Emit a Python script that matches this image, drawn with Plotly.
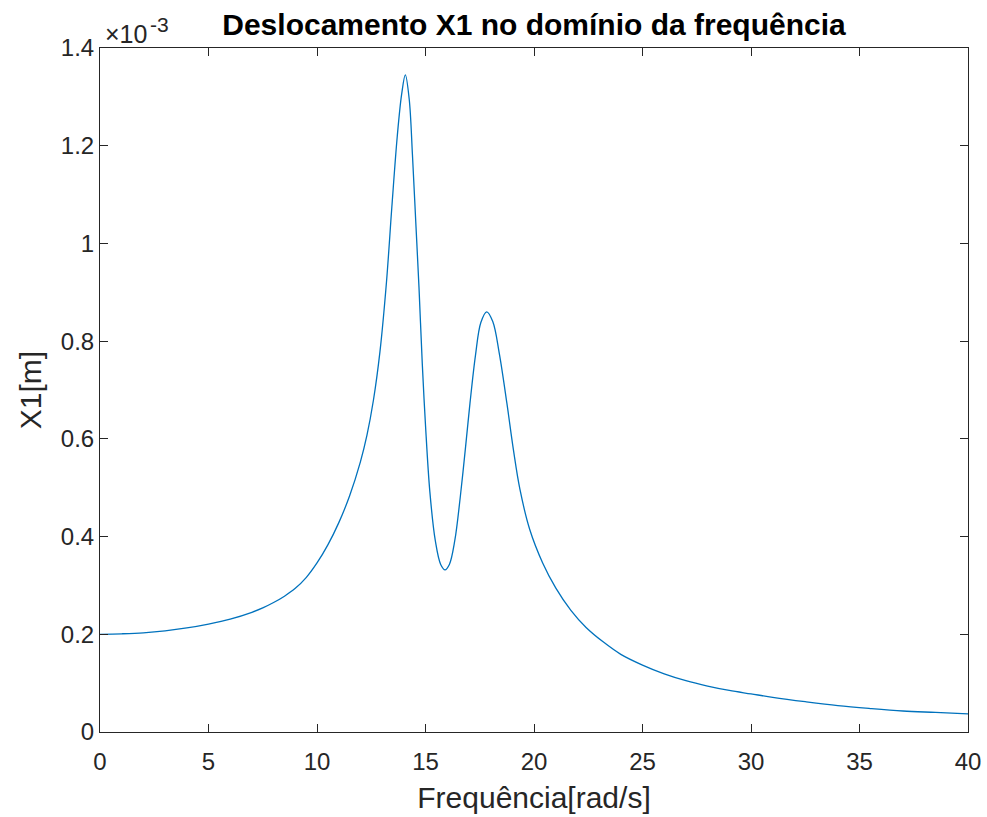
import plotly.graph_objects as go

# Frequency [rad/s]
freq = [0, 1, 2, 3, 4, 5, 6, 7, 7.5, 8, 8.5, 9, 9.5, 10, 10.5, 11, 11.5, 12, 12.3, 12.6,
        12.9, 13.2, 13.45, 13.7, 13.9, 14.07, 14.25, 14.4, 14.55, 14.7, 14.85, 15.0, 15.2,
        15.45, 15.7, 15.9, 16.1, 16.35, 16.6, 16.85, 17.05, 17.3, 17.55, 17.82, 18.1, 18.4,
        18.75, 19.05, 19.35, 19.8, 20.4, 21.0, 21.7, 22.4, 23.2, 24.0, 25.0, 26.0, 27.0,
        28.0, 29.0, 30.0, 31.0, 32.5, 34.0, 35.5, 37.0, 38.5, 40.0]
# Displacement X1 in units of 1e-3 m
x1_e3 = [0.200, 0.201, 0.203, 0.207, 0.213, 0.221, 0.231, 0.245, 0.254, 0.265, 0.278, 0.294,
         0.316, 0.346, 0.383, 0.428, 0.483, 0.553, 0.607, 0.679, 0.778, 0.920, 1.075, 1.220,
         1.305, 1.345, 1.295, 1.180, 1.045, 0.910, 0.755, 0.628, 0.492, 0.392, 0.343, 0.332,
         0.343, 0.392, 0.480, 0.585, 0.673, 0.770, 0.838, 0.860, 0.840, 0.775, 0.673, 0.578,
         0.497, 0.415, 0.346, 0.295, 0.249, 0.214, 0.184, 0.159, 0.137, 0.119, 0.105, 0.094,
         0.085, 0.078, 0.071, 0.062, 0.054, 0.048, 0.043, 0.040, 0.037]

x_ticks = [0, 5, 10, 15, 20, 25, 30, 35, 40]
y_ticks = [0, 0.2, 0.4, 0.6, 0.8, 1.0, 1.2, 1.4]
y_tick_labels = ["0", "0.2", "0.4", "0.6", "0.8", "1", "1.2", "1.4"]

axis_col = "#262626"
font_fam = "Liberation Sans, Arial, Helvetica, sans-serif"
W, H = 987, 817
ML, MR, MT, MB = 100, 19, 48, 85
PW, PH = W - ML - MR, H - MT - MB


def px_to_paper(px, py):
    return (px - ML) / PW, (H - MB - py) / PH


fig = go.Figure()
fig.add_trace(go.Scatter(x=freq, y=x1_e3, mode="lines",
                         line=dict(color="#0072BD", width=1.3, shape="spline", smoothing=1.0),
                         showlegend=False, hoverinfo="x+y"))

common = dict(showline=True, linecolor=axis_col, linewidth=1, mirror="ticks",
              ticks="inside", ticklen=8, tickcolor=axis_col, tickwidth=1,
              showgrid=False, zeroline=False,
              tickfont=dict(family=font_fam, size=24, color=axis_col))

fig.update_xaxes(range=[0, 40], tickvals=x_ticks, ticklabelstandoff=8,
                 title=dict(text="Frequência[rad/s]", standoff=13,
                            font=dict(family=font_fam, size=30, color=axis_col)),
                 **common)
fig.update_yaxes(range=[0, 1.4], tickvals=y_ticks, ticktext=y_tick_labels,
                 title=dict(text="X1[m]", standoff=10,
                            font=dict(family=font_fam, size=30, color=axis_col)),
                 **common)

ex_x, ex_y = px_to_paper(103, 34)
sp_x, sp_y = px_to_paper(148, 25)

fig.update_layout(
    width=W, height=H,
    margin=dict(l=ML, r=MR, t=MT, b=MB, autoexpand=False),
    paper_bgcolor="white", plot_bgcolor="white",
    title=dict(text="<b>Deslocamento X1 no domínio da frequência</b>",
               x=534 / W, xanchor="center", y=1 - 24 / H, yanchor="middle",
               font=dict(family=font_fam, size=30, color="black")),
    annotations=[
        dict(text="×10", xref="paper", yref="paper",
             x=ex_x, y=ex_y, xanchor="left", yanchor="middle",
             showarrow=False, font=dict(family=font_fam, size=25, color=axis_col)),
        dict(text="-3", xref="paper", yref="paper",
             x=sp_x, y=sp_y, xanchor="left", yanchor="middle",
             showarrow=False, font=dict(family=font_fam, size=21, color=axis_col)),
    ],
)

fig.write_html("out.html")
